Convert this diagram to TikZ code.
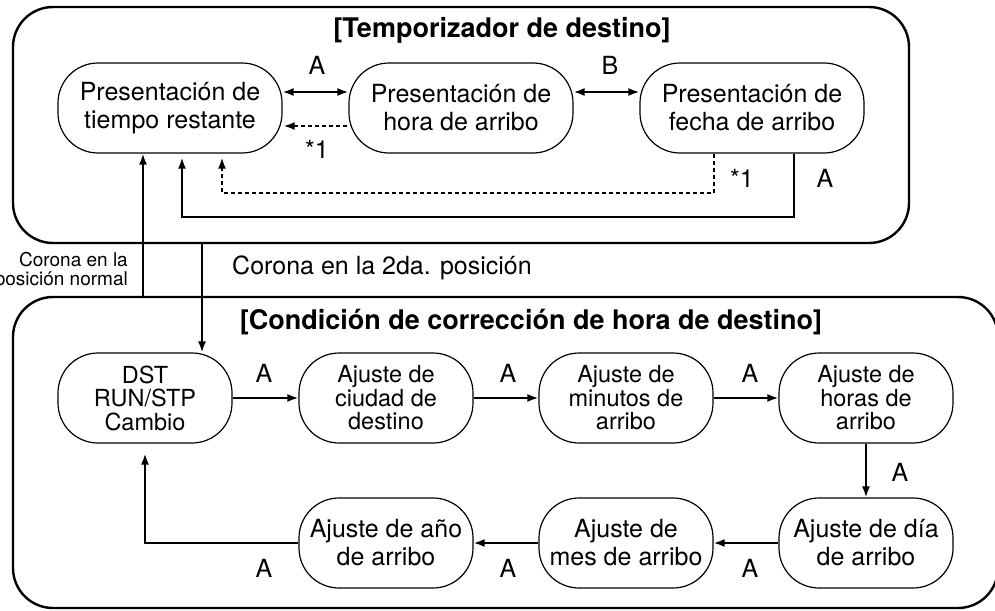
\documentclass[tikz,border=0pt]{standalone}
\usepackage{fontspec}
\setmainfont{TeX Gyre Heros}
\usetikzlibrary{arrows.meta}
\begin{document}
\begin{tikzpicture}[x=1pt,y=-1pt,
  big/.style={draw, line width=2.4pt, rounded corners=40pt, inner sep=0pt},
  state/.style={draw, line width=1.2pt, rounded corners=40pt, minimum width=224pt, minimum height=90pt, inner sep=0pt, align=center, font=\fontsize{25}{28}\selectfont},
  sstate/.style={state, minimum width=174pt},
  tri/.style={sstate, font=\fontsize{23.5}{23.5}\selectfont},
  arr/.style={line width=1.9pt, -{Latex[length=11pt,width=8pt]}},
  darr/.style={line width=1.9pt, {Latex[length=11pt,width=8pt]}-{Latex[length=11pt,width=8pt]}},
  dsh/.style={arr, dash pattern=on 4pt off 3pt},
  lab/.style={font=\fontsize{25}{28}\selectfont, inner sep=0pt},
  small/.style={font=\fontsize{19}{18.5}\selectfont, inner sep=0pt, align=right},
  ttl/.style={font=\bfseries\fontsize{27}{30}\selectfont, inner sep=0pt}
]
\useasboundingbox (0,0) rectangle (995,610);
% outer boxes
\node[big, minimum width=896pt, minimum height=236pt] (boxA) at (461,125) {};
\node[big, minimum width=985pt, minimum height=311pt] (boxB) at (505.5,452.5) {};
\node[ttl] (t1) at (502,30) {[Temporizador de destino]};
\node[ttl] (t2) at (531,322) {[Condición de corrección de hora de destino]};
% top states
\node[state] (n1) at (170,108) {Presentación de\\tiempo restante};
\node[state] (n2) at (461,108) {Presentación de\\hora de arribo};
\node[state] (n3) at (752,108) {Presentación de\\fecha de arribo};
% lower states
\node[tri] (d) at (145,398) {DST\\RUN/STP\\Cambio};
\node[tri] (c) at (386,398) {Ajuste de\\ciudad de\\destino};
\node[tri] (m) at (626,398) {Ajuste de\\minutos de\\arribo};
\node[tri] (h) at (866,398) {Ajuste de\\horas de\\arribo};
\node[sstate] (di) at (866,543) {Ajuste de día\\de arribo};
\node[sstate] (me) at (626,543) {Ajuste de\\mes de arribo};
\node[sstate] (y) at (386,543) {Ajuste de año\\de arribo};
% top connectors
\draw[darr] ([yshift=16pt]n1.east) -- ([yshift=16pt]n2.west);
\draw[darr] ([yshift=16pt]n2.east) -- ([yshift=16pt]n3.west);
\draw[dsh] ([yshift=-18pt,xshift=-1pt]n2.west) -- ([yshift=-18pt,xshift=1pt]n1.east);
\draw[dsh] ([xshift=-38pt]n3.south) -- ++(0,39) -| ([xshift=52pt,yshift=-4pt]n1.south);
\draw[arr] ([xshift=42pt]n3.south) -- ++(0,63) -| ([xshift=12pt,yshift=-4pt]n1.south);
\node[lab] (la1) at (317,65) {A};
\node[lab] (lb) at (610,65) {B};
\node[lab] (ls1) at (317,149) {*1};
\node[lab] (ls2) at (742,178) {*1};
\node[lab] (la2) at (825,178) {A};
% between boxes
\draw[arr] ([xshift=-27pt]n1.south |- boxB.north) -- ([xshift=-27pt]n1.south);
\draw[arr] ([xshift=57pt]d.north |- boxA.south) -- ([xshift=57pt]d.north);
\node[small, anchor=east] (cn) at (128,271) {Corona en la\\posición normal};
\node[lab, anchor=west] (c2) at (232,268) {Corona en la 2da. posición};
% lower connectors
\draw[arr] (d) -- (c);
\draw[arr] (c) -- (m);
\draw[arr] (m) -- (h);
\draw[arr] (h) -- (di);
\draw[arr] (di) -- (me);
\draw[arr] (me) -- (y);
\draw[arr] (y.west) -| ([yshift=-10pt]d.south);
\node[lab] (a1) at (264,373) {A};
\node[lab] (a2) at (508,373) {A};
\node[lab] (a3) at (750,373) {A};
\node[lab] (a4) at (900,472) {A};
\node[lab] (a5) at (750,568) {A};
\node[lab] (a6) at (508,568) {A};
\node[lab] (a7) at (264,568) {A};
\end{tikzpicture}
\end{document}
